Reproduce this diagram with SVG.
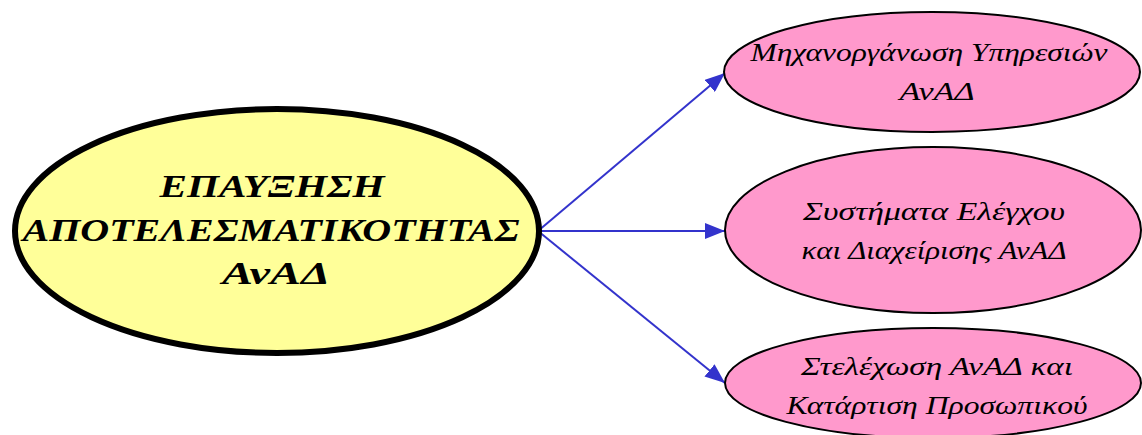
<svg xmlns="http://www.w3.org/2000/svg" width="1142" height="435" viewBox="0 0 1142 435">
<style>
.main{fill:#ffff99;stroke:#000;stroke-width:6}
.sub{fill:#ff99cc;stroke:#000;stroke-width:2}
.t{font-family:"Liberation Serif","DejaVu Serif",serif;font-style:italic;fill:#000;text-anchor:middle}
.tm{font-size:31px;font-weight:bold}
.ts{font-size:25px}
.c{stroke:#3333cc;stroke-width:2;fill:none;marker-end:url(#ah)}
</style>
<defs>
<marker id="ah" viewBox="0 0 20 16" refX="20" refY="8" markerWidth="20" markerHeight="16" markerUnits="userSpaceOnUse" orient="auto">
<path d="M0,0 L20,8 L0,16 z" fill="#3333cc"/>
</marker>
</defs>
<g id="connectors">
<line class="c" x1="538" y1="231" x2="725" y2="73"/>
<line class="c" x1="538" y1="231" x2="725" y2="231"/>
<line class="c" x1="538" y1="231" x2="725" y2="383"/>
</g>
<g id="node-main">
<ellipse class="main" cx="277" cy="231" rx="262" ry="122"/>
<text class="t tm" x="272" y="197" textLength="225" lengthAdjust="spacingAndGlyphs">ΕΠΑΥΞΗΣΗ</text>
<text class="t tm" x="271" y="241" textLength="497" lengthAdjust="spacingAndGlyphs">ΑΠΟΤΕΛΕΣΜΑΤΙΚΟΤΗΤΑΣ</text>
<text class="t tm" x="276" y="284" textLength="108" lengthAdjust="spacingAndGlyphs">ΑνΑΔ</text>
</g>
<g id="node-1">
<ellipse class="sub" cx="932" cy="72" rx="208" ry="60"/>
<text class="t ts" x="929" y="61" textLength="357" lengthAdjust="spacingAndGlyphs">Μηχανοργάνωση Υπηρεσιών</text>
<text class="t ts" x="937" y="100" textLength="75" lengthAdjust="spacingAndGlyphs">ΑνΑΔ</text>
</g>
<g id="node-2">
<ellipse class="sub" cx="933" cy="230" rx="208" ry="83"/>
<text class="t ts" x="934" y="220" textLength="262" lengthAdjust="spacingAndGlyphs">Συστήματα Ελέγχου</text>
<text class="t ts" x="934" y="259" textLength="265" lengthAdjust="spacingAndGlyphs">και Διαχείρισης ΑνΑΔ</text>
</g>
<g id="node-3">
<ellipse class="sub" cx="933" cy="383" rx="208" ry="55"/>
<text class="t ts" x="937" y="375" textLength="272" lengthAdjust="spacingAndGlyphs">Στελέχωση ΑνΑΔ  και</text>
<text class="t ts" x="937" y="414" textLength="301" lengthAdjust="spacingAndGlyphs">Κατάρτιση Προσωπικού</text>
</g>
</svg>
